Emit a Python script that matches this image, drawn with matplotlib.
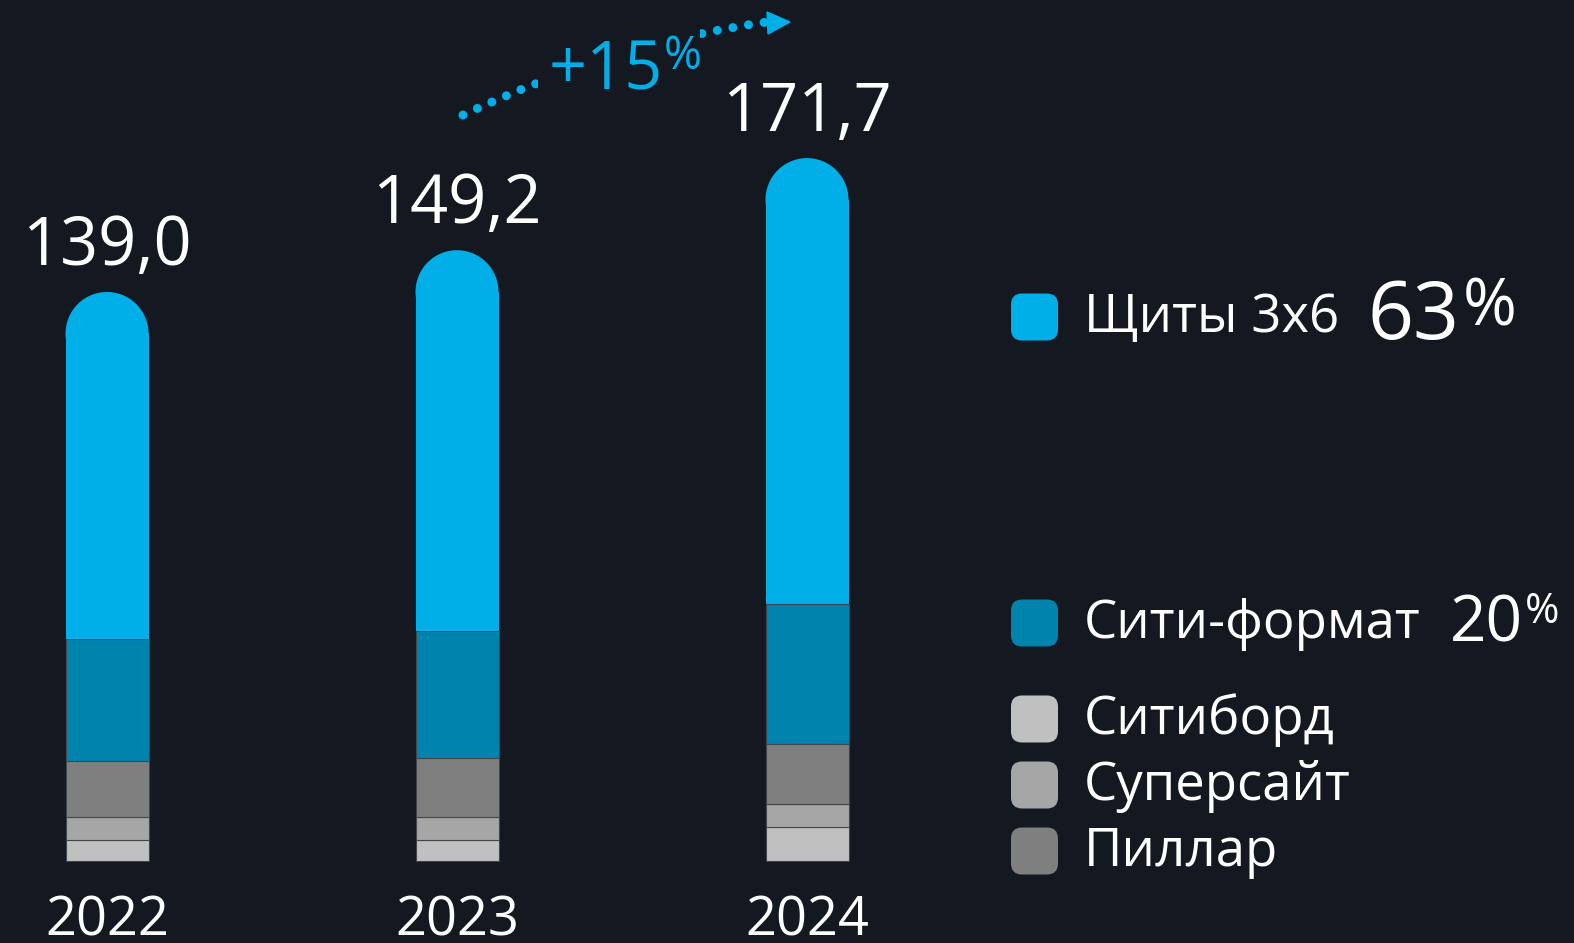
import matplotlib
matplotlib.use("Agg")
import matplotlib.pyplot as plt
import matplotlib.transforms as mtransforms
from matplotlib.patches import Ellipse, FancyBboxPatch, PathPatch, Polygon, Rectangle
from matplotlib.path import Path

years = ["2022", "2023", "2024"]
totals = ["139,0", "149,2", "171,7"]
shields = [84.8, 93.1, 108.9]
city_format = [29.8, 31.0, 34.2]
pillar = [13.7, 14.4, 14.7]
supersite = [5.6, 5.6, 5.6]
cityboard = [5.1, 5.1, 8.3]

legend_labels = ["Щиты 3х6", "Сити-формат", "Ситиборд", "Суперсайт", "Пиллар"]
growth_label = "+15"

BG = "#141820"
BLUE = "#00aee8"
DARK_BLUE = "#0083ad"
GREY_DARK = "#7f7f7f"
GREY_MID = "#a6a6a6"
GREY_LIGHT = "#c0c0c0"
EDGE = "#43464c"
legend_colors = [BLUE, DARK_BLUE, GREY_LIGHT, GREY_MID, GREY_DARK]

FONT = ["Open Sans", "DejaVu Sans"]
plt.rcParams["font.family"] = FONT

W, H = 1574, 943
fig = plt.figure(figsize=(W / 100, H / 100), dpi=100, facecolor=BG)
# pixel coordinates with y measured from the top
pix = mtransforms.Affine2D().scale(1 / W, -1 / H).translate(0, 1) + fig.transFigure

# bars: baseline at 861 px, 4.094 px per unit, 350 px between bars
px_per_unit = 4.094
ax = fig.add_axes([0, 0, 1, 1])
ax.set_facecolor(BG)
ax.set_xlim(-107 / 350, (W - 107) / 350)
ax.set_ylim(-(H - 861) / px_per_unit, 861 / px_per_unit)
ax.axis("off")

x = list(range(len(years)))
bar_w = 83 / 350
radius = 41.5 / px_per_unit

bottom = [0.0] * len(years)
for vals, color in [(cityboard, GREY_LIGHT), (supersite, GREY_MID),
                    (pillar, GREY_DARK), (city_format, DARK_BLUE)]:
    ax.bar(x, vals, bar_w, bottom=bottom, color=color, edgecolor=EDGE,
           linewidth=0.8, zorder=2)
    bottom = [b + v for b, v in zip(bottom, vals)]

# top segment with a rounded cap
ax.bar(x, [v - radius for v in shields], bar_w, bottom=bottom, color=BLUE,
       linewidth=0, zorder=2)
for xi, b, v in zip(x, bottom, shields):
    ax.add_patch(Ellipse((xi, b + v - radius), bar_w, 2 * radius,
                         facecolor=BLUE, edgecolor="none", zorder=2))

for xi, b, v, lab in zip(x, bottom, shields, totals):
    ax.text(xi, b + v + 6.6, lab, ha="center", va="baseline",
            fontsize=48, color="white")

for xi, yr in zip(x, years):
    ax.text(xi, -(935 - 861) / px_per_unit, yr, ha="center", va="baseline",
            fontsize=39, color="white")

# dotted growth arrow
curve = Path([(463, 115), (616, 43), (767, 22)],
             [Path.MOVETO, Path.CURVE3, Path.CURVE3])
fig.add_artist(PathPatch(curve, transform=pix, fill=False, edgecolor=BLUE,
                         linewidth=6.5, linestyle=(0, (0.001, 1.75)),
                         capstyle="round", zorder=1))
fig.add_artist(Polygon([(767, 12), (790, 22), (768, 34)], closed=True,
                       transform=pix, color=BLUE, zorder=1))
fig.add_artist(Rectangle((538, 20), 162, 85, transform=pix, color=BG,
                         linewidth=0, zorder=2))


def with_percent(xp, yp, text, size, pct_size, pct_base, color, gap=1):
    t = fig.text(xp, yp, text, transform=pix, fontsize=size, color=color,
                 va="baseline", ha="left", zorder=3)
    r = fig.canvas.get_renderer()
    bb = t.get_window_extent(renderer=r)
    fig.text(bb.x1 + gap, pct_base, "%", transform=pix, fontsize=pct_size,
             color=color, va="baseline", ha="left", zorder=3)


with_percent(549, 90, growth_label, 48, 33, 69, BLUE)

# legend
row_y = [317, 623, 719, 785, 851]
for lab, color, cy in zip(legend_labels, legend_colors, row_y):
    fig.add_artist(FancyBboxPatch((1011, cy - 23.5), 47, 47,
                                  boxstyle="round,pad=0,rounding_size=11",
                                  transform=pix, color=color, linewidth=0))
    fig.text(1084, cy + 15, lab, transform=pix, fontsize=38, color="white",
             va="baseline", ha="left")

with_percent(1368, 339, "63", 58, 47, 326, "white", gap=3)
with_percent(1450, 641, "20", 46, 30, 623, "white", gap=2)

fig.savefig("out.png", dpi=100, facecolor=BG)
